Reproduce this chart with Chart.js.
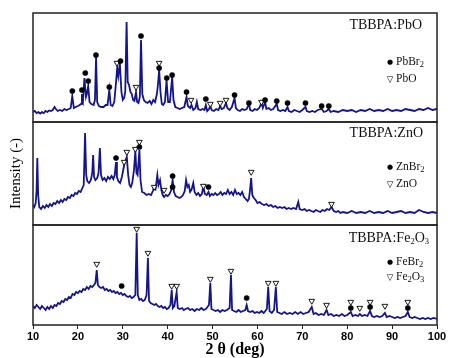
<!DOCTYPE html>
<html><head><meta charset="utf-8">
<script src="https://cdn.jsdelivr.net/npm/chart.js@4.4.1/dist/chart.umd.min.js"></script>
<style>
html,body{margin:0;padding:0;background:#fff;}
#wrap{position:relative;width:452px;height:358px;}
.t{position:absolute;font-family:"Liberation Serif","Times New Roman",serif;font-size:11.5px;line-height:1;color:#111;white-space:nowrap;transform:translateY(-50%);}
.h{font-size:14px;}
.r{transform:translate(-100%,-50%);}
.sym{position:absolute;font-family:"DejaVu Sans",sans-serif;line-height:1;color:#000;transform:translate(-50%,-50%);}
sub{font-size:8.5px;vertical-align:-2px;line-height:0;}
</style></head><body>
<div id="wrap">
<canvas id="c" width="452" height="358"></canvas>
<div class="t h r" style="left:422px;top:25px">TBBPA:PbO</div>
<div class="sym" style="left:390px;top:62px;font-size:7px">●</div>
<div class="t" style="left:396px;top:62px">PbBr<sub>2</sub></div>
<div class="sym" style="left:390px;top:79px;font-size:8.5px">▽</div>
<div class="t" style="left:396px;top:79px">PbO</div>

<div class="t h r" style="left:423px;top:133px">TBBPA:ZnO</div>
<div class="sym" style="left:390px;top:167px;font-size:7px">●</div>
<div class="t" style="left:396px;top:167px">ZnBr<sub>2</sub></div>
<div class="sym" style="left:390px;top:184px;font-size:8.5px">▽</div>
<div class="t" style="left:396px;top:184px">ZnO</div>

<div class="t h r" style="left:429px;top:238px">TBBPA:Fe<sub>2</sub>O<sub>3</sub></div>
<div class="sym" style="left:390px;top:262px;font-size:7px">●</div>
<div class="t" style="left:396px;top:262px">FeBr<sub>2</sub></div>
<div class="sym" style="left:390px;top:277px;font-size:8.5px">▽</div>
<div class="t" style="left:396px;top:277px">Fe<sub>2</sub>O<sub>3</sub></div>
</div>
<script>
// x tick labels
const xTicks = [10,20,30,40,50,60,70,80,90,100];

// TBBPA:PbO pattern [2theta, intensity]
const tracePbO = [[10,10],[10.4,11],[10.8,9],[11.2,10],[11.6,8.5],[12,10],[12.4,9],[12.8,11],[13.2,10],[13.6,11.5],[14,11],[14.4,12],[14.8,15],[15.1,13],[15.5,11],[16,12],[16.5,11],[17,13],[17.5,12],[18,13],[18.4,14],[18.75,26],[19.1,14],[19.5,15],[20,16],[20.4,17],[20.7,18],[20.9,28],[21.15,22],[21.45,44],[21.8,25],[22.0,28],[22.3,36],[22.6,20],[23.0,18],[23.5,17],[23.8,22],[24.05,65],[24.3,20],[24.7,16],[25.2,15],[25.7,15],[26.2,17],[26.6,17],[27.0,32],[27.3,17],[27.7,16],[28.1,20],[28.5,40],[28.75,54],[29.0,46],[29.35,59],[29.7,30],[30.0,22],[30.3,24],[30.55,30],[30.85,100],[31.1,40],[31.4,37],[31.7,30],[32.0,28],[32.3,22],[32.6,21],[32.95,30],[33.2,20],[33.5,19],[33.8,25],[34.06,82],[34.35,28],[34.7,22],[35.1,20],[35.5,19],[36.0,21],[36.4,18],[36.8,22],[37.2,20],[37.6,28],[37.85,38],[38.1,52],[38.4,30],[38.7,18],[39.0,17],[39.4,20],[39.75,42],[40.1,20],[40.5,20],[41.0,45],[41.3,22],[41.7,15],[42.2,14],[42.7,13],[43.2,14],[43.7,15],[44.2,25],[44.5,16],[45.0,14],[45.3,17],[45.7,12],[46.2,14],[46.5,20],[46.8,13],[47.3,12],[47.8,13],[48.2,12],[48.5,17],[48.8,11],[49.2,13],[49.5,16],[49.8,12],[50.3,11],[50.8,13],[51.3,12],[51.7,16],[52.0,13],[52.5,14],[53.0,19],[53.3,14],[53.8,12],[54.3,15],[54.9,24],[55.2,14],[55.6,12],[56.1,11],[56.6,13],[57.1,12],[57.6,13],[58.1,18],[58.4,12],[58.9,11],[59.4,13],[59.9,12],[60.4,14],[60.9,19],[61.2,14],[61.7,20],[62.0,13],[62.5,14],[63.0,12],[63.5,13],[64.3,18],[64.6,12],[65.1,11],[65.7,12],[66.2,11],[66.7,15],[67.0,11],[67.6,10],[68.2,12],[68.8,11],[69.4,10],[70.0,12],[70.7,15],[71.0,11],[71.6,10],[72.2,11],[72.8,10],[73.4,12],[74.3,13],[74.8,10],[75.4,11],[75.9,13],[76.3,10],[77,11],[78,10],[79,12],[80,11],[81,12],[82,10],[83,12],[84,11],[85,13],[86,11],[87,12],[88,11],[89,13],[90,11],[91,12],[92,11],[93,13],[94,12],[95,11],[96,13],[97,12],[98,14],[99,12],[100,13]];
const circPbO = [[18.76,31],[20.9,32],[21.65,49],[22.3,41],[24.03,67],[27.0,35],[29.5,61],[34.06,86],[38.1,54],[39.8,44],[41.0,47],[44.2,30],[48.5,23],[54.9,27],[58.1,19],[61.7,22],[64.3,21],[66.7,19],[70.7,19],[74.3,16],[75.9,16]];
const triPbO = [[28.7,59],[32.95,35],[38.1,59],[45.2,22],[49.5,18],[51.7,19],[53.0,22],[60.9,20]];

// TBBPA:ZnO pattern
const traceZnO = [[10,20],[10.3,18],[10.6,22],[10.8,35],[10.96,67],[11.15,30],[11.4,18],[11.8,16],[12.2,19],[12.6,17],[13,20],[13.4,18],[13.8,21],[14.2,19],[14.6,22],[15,21],[15.4,24],[15.8,22],[16.2,25],[16.6,23],[17,26],[17.4,25],[17.8,28],[18.2,27],[18.6,30],[19,29],[19.4,32],[19.8,31],[20.2,34],[20.6,33],[21.0,37],[21.3,40],[21.6,92],[21.85,50],[22.1,44],[22.5,42],[22.9,45],[23.2,52],[23.4,70],[23.6,48],[23.9,45],[24.3,47],[24.6,52],[24.9,77],[25.15,50],[25.5,45],[25.9,47],[26.3,44],[26.7,48],[27.1,46],[27.5,49],[27.9,46],[28.2,50],[28.5,63],[28.7,48],[29.0,44],[29.4,42],[29.8,48],[30.1,55],[30.4,62],[30.9,68],[31.2,50],[31.5,40],[31.8,38],[32.1,42],[32.5,55],[32.8,74],[33.05,52],[33.3,50],[33.7,75],[33.95,45],[34.3,33],[34.8,32],[35.3,30],[35.8,31],[36.3,30],[36.7,34],[37.0,38],[37.3,36],[37.7,50],[37.95,40],[38.3,45],[38.6,35],[38.9,30],[39.2,28],[39.6,30],[40.0,29],[40.4,31],[40.8,35],[41.1,45],[41.4,33],[41.8,29],[42.2,28],[42.6,27],[43.0,28],[43.4,30],[43.8,34],[44.1,45],[44.4,38],[44.7,40],[45.0,33],[45.3,35],[45.7,42],[46.0,33],[46.4,30],[46.8,32],[47.2,29],[47.6,31],[47.95,38],[48.3,31],[48.7,30],[49.1,33],[49.4,29],[49.8,31],[50.2,30],[50.6,32],[51.0,30],[51.4,31],[51.8,33],[52.2,30],[52.6,32],[53.0,31],[53.4,35],[53.8,31],[54.2,33],[54.6,30],[55.0,35],[55.4,31],[55.8,32],[56.2,30],[56.6,33],[57.0,28],[57.4,26],[57.8,24],[58.1,26],[58.35,35],[58.6,47],[58.85,30],[59.2,27],[59.6,25],[60.0,22],[60.5,23],[61.0,21],[61.5,20],[62,21],[62.5,19],[63,20],[63.5,18],[64,19],[64.5,17],[65,18],[65.5,17],[66,18],[66.5,16],[67,17],[67.5,16],[68,17],[68.6,16],[69.1,23],[69.4,16],[70,15],[70.5,16],[71,14],[71.5,15],[72,14],[72.5,13],[73,15],[73.5,14],[74,13],[74.5,15],[75,14],[75.5,16],[76,15],[76.5,18],[77,14],[77.5,13],[78,14],[78.5,12],[79,13],[80,12],[81,14],[82,12],[83,13],[84,12],[85,14],[86,12],[87,13],[88,12],[89,14],[90,12],[91,13],[92,14],[93,12],[94,13],[95,12],[96,15],[97,13],[98,12],[99,13],[100,12]];
const circZnO = [[28.5,67],[33.7,78],[41.1,49],[41.1,38],[49.1,38]];
const triZnO = [[30.3,63],[30.9,73],[32.8,76],[33.7,83],[37.0,38],[39.2,35],[47.95,39],[58.6,53],[76.5,21]];

// TBBPA:Fe2O3 pattern
const traceFe = [[10,19],[10.4,17],[10.8,20],[11.2,18],[11.6,16],[12,19],[12.4,17],[12.8,15],[13.2,18],[13.6,16],[14,19],[14.4,17],[14.8,20],[15.2,19],[15.6,22],[16,21],[16.4,24],[16.8,23],[17.2,26],[17.6,25],[18,28],[18.4,27],[18.8,31],[19.2,30],[19.6,33],[20,32],[20.4,34],[20.8,33],[21.2,36],[21.6,35],[22,38],[22.4,36],[22.8,39],[23.2,38],[23.6,40],[23.9,42],[24.2,55],[24.45,40],[24.8,38],[25.2,37],[25.6,38],[26,35],[26.4,36],[26.8,34],[27.2,35],[27.6,33],[28,34],[28.4,32],[28.8,33],[29.2,31],[29.6,32],[30,30],[30.4,31],[30.8,29],[31.2,28],[31.6,29],[32,27],[32.4,28],[32.8,30],[33.1,92],[33.35,30],[33.7,25],[34.1,26],[34.5,24],[34.9,25],[35.3,30],[35.6,67],[35.85,24],[36.2,22],[36.6,21],[37,20],[37.4,21],[37.8,19],[38.2,18],[38.6,19],[39,17],[39.4,18],[39.8,16],[40.2,17],[40.6,20],[40.9,35],[41.15,17],[41.5,19],[42.0,33],[42.25,17],[42.7,16],[43.2,17],[43.6,15],[44,16],[44.5,17],[45,15],[45.5,16],[46,14],[46.5,16],[47,15],[47.5,17],[48,15],[48.5,16],[49.2,20],[49.5,42],[49.75,16],[50.2,15],[50.7,14],[51.2,15],[51.7,13],[52.2,15],[52.7,14],[53.2,15],[53.8,17],[54.1,50],[54.35,15],[54.8,14],[55.3,13],[55.8,15],[56.3,13],[56.8,14],[57.3,15],[57.6,20],[57.9,14],[58.4,13],[58.9,14],[59.4,12],[59.9,13],[60.4,12],[60.9,14],[61.4,12],[62.1,16],[62.4,38],[62.7,14],[63.2,12],[63.7,15],[64.1,38],[64.4,13],[64.9,12],[65.4,11],[66,13],[66.6,11],[67.2,12],[67.8,11],[68.4,13],[69,11],[69.6,13],[70.2,11],[70.8,12],[71.4,13],[72.1,18],[72.5,11],[73,12],[73.6,10],[74.2,11],[74.8,10],[75.4,15],[75.8,10],[76.4,11],[77,9],[77.6,10],[78.2,9],[78.8,11],[79.4,9],[80,10],[80.8,13],[81.2,9],[81.8,10],[82.4,9],[82.8,11],[83.3,9],[83.9,10],[84.5,9],[85.1,14],[85.5,9],[86,8],[86.6,9],[87.2,8],[87.8,9],[88.4,12],[88.8,8],[89.4,9],[90,8],[90.6,7],[91.2,8],[91.8,7],[92.4,8],[93.0,9],[93.5,13],[93.9,8],[94.5,7],[95,8],[95.6,7],[96.2,6],[96.8,7],[97.4,6],[98,7],[98.6,6],[99.2,7],[100,6]];
const circFe = [[29.75,39],[57.6,27],[80.8,17],[85.1,18],[93.5,17]];
const triFe = [[24.2,61],[33.1,96],[35.6,72],[40.9,39],[42.0,39],[49.5,46],[54.1,54],[62.4,42],[64.1,42],[72.1,24],[75.4,20],[80.8,23],[82.8,17],[85.1,23],[88.4,19],[93.5,23]];

const LINE = '#14148c';
const pts = a => a.map(([x,y]) => ({x, y}));
function trace(data, axis){ return {type:'line', data:pts(data), yAxisID:axis, borderColor:LINE, borderWidth:1.8, pointRadius:0, tension:0, fill:false, order:2}; }
function circ(data, axis){ return {type:'scatter', data:pts(data), yAxisID:axis, pointStyle:'circle', pointRadius:2.6, backgroundColor:'#000', borderColor:'#000', borderWidth:0.5, clip:false, order:1}; }
function tri(data, axis){ return {type:'scatter', data:pts(data), yAxisID:axis, pointStyle:'triangle', rotation:180, pointRadius:3.3, backgroundColor:'#fff', borderColor:'#000', borderWidth:0.9, clip:false, order:1}; }

function yAxis(weight, max, extra){
  return Object.assign({type:'linear', position:'left', stack:'panels', stackWeight:weight, min:0, max:max,
    ticks:{display:false}, grid:{display:false}, border:{display:false},
    afterFit: s => { s.width = 33; }}, extra||{});
}

const frames = {
  id:'frames',
  afterDraw(chart){
    const ctx = chart.ctx, a = chart.chartArea;
    ctx.save();
    ctx.strokeStyle = '#222'; ctx.lineWidth = 1.5;
    ['yTop','yMid','yBot'].forEach(id => {
      const s = chart.scales[id];
      ctx.strokeRect(a.left, s.top, a.right - a.left, s.bottom - s.top);
    });
    ctx.restore();
  }
};

new Chart(document.getElementById('c'), {
  type:'line',
  data:{ datasets:[
    trace(tracePbO,'yTop'), circ(circPbO,'yTop'), tri(triPbO,'yTop'),
    trace(traceZnO,'yMid'), circ(circZnO,'yMid'), tri(triZnO,'yMid'),
    trace(traceFe,'yBot'), circ(circFe,'yBot'), tri(triFe,'yBot')
  ]},
  options:{
    responsive:false, animation:false,
    layout:{padding:{left:0, right:15, top:13, bottom:0}},
    plugins:{legend:{display:false}, tooltip:{enabled:false}},
    scales:{
      x:{type:'linear', position:'bottom', min:10, max:100,
        afterBuildTicks: s => { s.ticks = xTicks.map(v => ({value:v})); },
        ticks:{color:'#000', padding:1, maxRotation:0, font:{family:'Liberation Sans, Arial, sans-serif', size:11, weight:'bold'}},
        grid:{display:true, drawOnChartArea:false, drawTicks:true, tickLength:4, color:'#222'},
        border:{display:false},
        title:{display:true, text:'2 θ (deg)', color:'#000', padding:{top:0,bottom:0}, font:{family:'Liberation Serif, Times New Roman, serif', size:16, weight:'bold', lineHeight:1}},
        afterFit: s => { s.height = 33; }
      },
      yBot: yAxis(100, 100),
      yMid: yAxis(103, 103, {title:{display:true, text:'Intensity (-)', color:'#000', padding:{top:9}, font:{family:'Liberation Serif, Times New Roman, serif', size:15, lineHeight:1}}}),
      yTop: yAxis(109, 109)
    }
  },
  plugins:[frames]
});
</script>
</body></html>
